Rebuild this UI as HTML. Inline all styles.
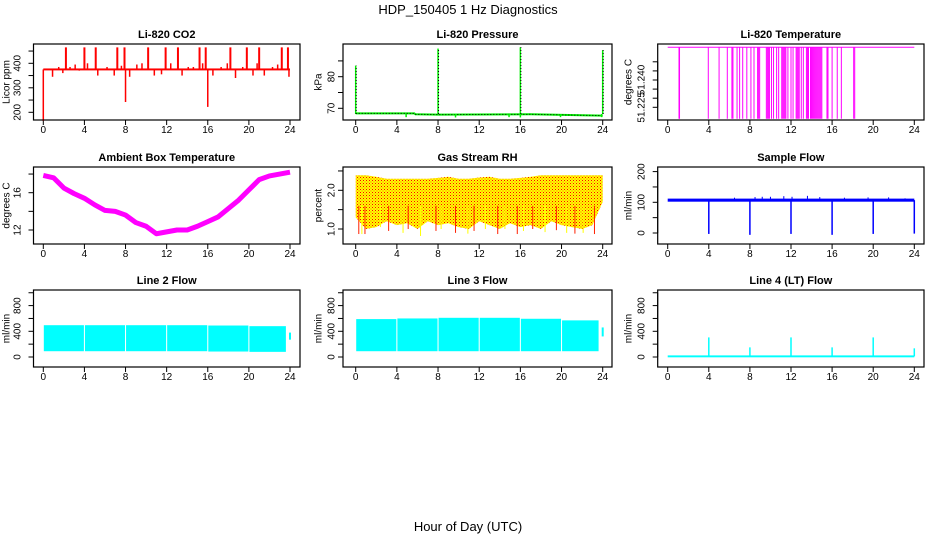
<!DOCTYPE html>
<html><head><meta charset="utf-8"><style>
html,body{margin:0;padding:0;background:#fff}
svg{display:block;font-family:"Liberation Sans",sans-serif}
</style></head><body>
<svg id="chart" width="936" height="540" viewBox="0 0 936 540">
<defs>
<pattern id="rhpat" width="3" height="3" patternUnits="userSpaceOnUse">
<rect width="3" height="3" fill="#ffff00"/><rect width="1" height="1" fill="#ff0000"/><rect x="1.5" y="1.5" width="1" height="1" fill="#ff6000"/>
</pattern>
</defs>
<text x="468" y="14" text-anchor="middle" font-size="13">HDP_150405  1 Hz Diagnostics</text>
<text x="468" y="531" text-anchor="middle" font-size="13">Hour of Day (UTC)</text>
</svg>
<script>
// ---- data ----
const xTicks = [0,4,8,12,16,20,24];
const co2Base = 375;
const co2SpikeHours = [2.2,4.0,5.1,7.2,7.9,10.2,11.9,13.1,15.2,15.8,18.2,19.8,21.0,23.2,23.8];
const co2SpikeValues = [465,465,465,465,465,465,465,465,465,465,465,465,465,465,465];
const co2SmallHours = [0.9,1.5,1.9,2.6,3.1,3.5,4.3,5.3,6.2,6.9,7.6,8.4,9.1,9.6,10.8,11.5,12.4,13.5,14.1,14.6,15.5,16.5,17.3,17.9,18.7,19.4,20.4,20.8,21.5,22.3,22.8,23.9];
const co2SmallValues = [345,385,360,385,395,370,400,350,385,350,390,345,395,400,350,355,400,350,385,385,400,350,385,400,340,385,350,400,350,385,395,345];
const co2DownHours = [0,8.0,16.0];
const co2DownValues = [165,242,222];

const presBase = [[0,68.4],[5.7,68.4],[5.8,68.1],[8,68.0],[17,68.1],[22,67.8],[24,67.7]];
const presSpikeHours = [0,8,16,24];
const presSpikeValues = [83.5,88.9,89.3,88.4];
const presDipHours = [4.9,9.7,14.9,16,19.9,23.9];
const presDipValues = [67.2,67.1,67.2,67.1,67.2,67.2];

const ltTop = 51.258, ltBottom = 51.2187;
const ltDropHours = [1.1,1.15,3.95,5.0,5.8,6.25,6.35,6.75,7.0,7.3,7.7,8.1,8.4,8.75,8.85,8.95,9.6,9.7,9.8,9.9,10.1,10.3,10.6,10.8,11.1,11.2,11.3,11.4,11.5,11.7,12.0,12.2,12.5,12.6,12.7,12.8,13.0,13.2,13.5,13.6,13.7,13.9,14.0,14.1,14.2,14.3,14.4,14.5,14.6,14.7,14.8,14.9,15.0,15.5,15.6,16.0,16.5,16.9,18.1,18.2];

const ambHours = [0,1,2,3,4,5,6,7,8,9,10,11,12,13,14,15,16,17,18,19,20,21,22,23,24];
const ambValues = [17.85,17.6,16.5,15.9,15.4,14.7,14.1,14.0,13.6,12.8,12.4,11.6,11.8,12.0,12.0,12.4,12.9,13.4,14.3,15.2,16.3,17.4,17.8,18.0,18.2];

const rhHours = [0,1,2,3,4,5,6,7,8,9,10,11,12,13,14,15,16,17,18,19,20,21,22,23,24];
const rhUpper = [2.39,2.39,2.35,2.30,2.30,2.30,2.30,2.30,2.32,2.35,2.30,2.30,2.33,2.35,2.30,2.30,2.32,2.35,2.39,2.39,2.39,2.39,2.39,2.39,2.39];
const rhLower = [1.30,1.00,1.05,1.20,1.10,1.15,1.00,1.20,1.10,1.15,1.05,1.00,1.20,1.10,1.00,1.15,1.05,1.10,1.00,1.20,1.10,1.05,1.00,1.10,1.70];
const rhSpikeHours = [0.3,0.6,0.9,2.4,3.2,4.6,5.1,6.3,7.8,8.3,9.7,10.9,11.5,12.6,13.8,14.5,15.7,16.3,17.2,18.4,19.5,20.5,21.3,22.1,23.2];
const rhSpikeValues = [0.87,0.87,0.87,1.05,0.95,0.9,1.0,0.82,0.95,1.0,0.9,0.88,0.95,1.0,0.87,1.0,0.87,0.95,1.0,0.92,0.97,0.9,0.88,0.9,0.87];

const sfBase = 107;
const sfDipHours = [4,8,12,16,20,24];
const sfDipValues = [-3,-6,-3,-6,-3,-2];
const sfNoiseHours = [6.5,8.5,9.2,10.0,11.3,12.1,13.6,14.8,17.2,19.5,21.5,23.1];
const sfNoiseValues = [115,117,118,118,120,118,121,117,115,116,116,113];

const l2SegStart = [0.05,4.05,8.05,12.05,16.05,20.05];
const l2SegEnd = [3.95,7.95,11.95,15.95,19.95,23.6];
const l2SegTop = [495,495,495,495,490,480];
const l2SegBottom = [90,90,90,90,85,80];
const l2Tail = [270,380];

const l3SegStart = [0.05,4.05,8.05,12.05,16.05,20.05];
const l3SegEnd = [3.95,7.95,11.95,15.95,19.95,23.6];
const l3SegTop = [590,600,610,610,595,570];
const l3SegBottom = [90,90,90,90,90,90];
const l3Tail = [320,460];

const l4Base = 10;
const l4SpikeHours = [4,8,12,16,20,24];
const l4SpikeValues = [305,150,305,150,305,135];

// ---- layout ----
const NS = "http://www.w3.org/2000/svg";
const svg = document.getElementById('chart');
const cols = [{l:33.5,r:300,x0:43.3,x24:290,lab:18,tit:7},{l:343,r:612,x0:355.7,x24:602.7,lab:332,tit:319},{l:657.7,r:924,x0:667.7,x24:914.3,lab:642,tit:629}];
const rows = [{t:44,b:120},{t:167,b:244},{t:290,b:367}];
function mk(tag, attrs, parent){const e=document.createElementNS(NS,tag);for(const k in attrs)e.setAttribute(k,attrs[k]);(parent||svg).appendChild(e);return e;}

function panel(ci,ri,name,title,ylab,v1,p1,v2,p2,yt,yl,ylText){
  const c=cols[ci],r=rows[ri];
  const g=mk('g',{});
  
  
  const xs=h=>c.x0+(c.x24-c.x0)*h/24;
  const ys=v=>p1+(v-v1)*(p2-p1)/(v2-v1);
  const t=mk('text',{x:(c.l+c.r)/2,y:r.t-6,'text-anchor':'middle','font-size':11,'font-weight':'bold'},g);
  t.textContent=title;
  
  
  const yt2=mk('text',{x:c.tit,y:(r.t+r.b)/2,'text-anchor':'middle','font-size':10,transform:`rotate(-90 ${c.tit} ${(r.t+r.b)/2})`,'dominant-baseline':'middle'},g);
  yt2.textContent=ylab;
  
  
  const ya=mk('g',{stroke:'#000','stroke-width':1},g);
  
  
  mk('line',{x1:c.l,x2:c.l,y1:ys(yt[0]),y2:ys(yt[yt.length-1])},ya);
  yt.forEach(v=>mk('line',{x1:c.l-5,x2:c.l,y1:ys(v),y2:ys(v)},ya));
  yl.forEach((v,i)=>{const y=ys(v);const tx=mk('text',{x:c.lab,y:y,'text-anchor':'middle','font-size':10,'dominant-baseline':'middle',transform:`rotate(-90 ${c.lab} ${y})`},g);tx.textContent=ylText[i];
    
    });
  const xa=mk('g',{stroke:'#000','stroke-width':1},g);
  
  
  mk('line',{x1:xs(0),x2:xs(24),y1:r.b,y2:r.b},xa);
  xTicks.forEach(h=>{mk('line',{x1:xs(h),x2:xs(h),y1:r.b,y2:r.b+5},xa);
    const tx=mk('text',{x:xs(h),y:r.b+13,'text-anchor':'middle','font-size':10,stroke:'none'},g);tx.textContent=h;
    
    });
  const plot=mk('g',{},g);
  
  
  const box=mk('rect',{x:c.l,y:r.t,width:c.r-c.l,height:r.b-r.t,fill:'none',stroke:'#000','stroke-width':1.2},g);
  
  
  return {xs,ys,plot};
}
function vline(p,x,y1,y2,col,w){mk('line',{x1:x,x2:x,y1:y1,y2:y2,stroke:col,'stroke-width':w||1},p);}

// CO2
(function(){
  const P=panel(0,0,'co2','Li-820 CO2','Licor ppm',200,112.3,400,63.3,[200,250,300,350,400,450],[200,300,400],['200','300','400']);
  mk('rect',{x:P.xs(0),y:P.ys(co2Base+4),width:P.xs(24)-P.xs(0),height:P.ys(co2Base-4)-P.ys(co2Base+4),fill:'#ff0000'},P.plot);
  co2SpikeHours.forEach((h,i)=>vline(P.plot,P.xs(h),P.ys(co2Base),P.ys(co2SpikeValues[i]),'#ff0000',2));
  co2SmallHours.forEach((h,i)=>vline(P.plot,P.xs(h),P.ys(co2Base),P.ys(co2SmallValues[i]),'#ff0000',1.5));
  co2DownHours.forEach((h,i)=>vline(P.plot,P.xs(h),P.ys(co2Base),P.ys(co2DownValues[i]),'#ff0000',1.5));
})();
// Pressure
(function(){
  const P=panel(1,0,'pressure','Li-820 Pressure','kPa',70,108.3,80,76.7,[70,75,80,85],[70,80],['70','80']);
  const pts=presBase.map(d=>P.xs(d[0])+','+P.ys(d[1])).join(' ');
  mk('polyline',{points:pts,fill:'none',stroke:'#00ee00','stroke-width':2},P.plot);
  mk('polyline',{points:pts,fill:'none',stroke:'#000','stroke-width':1,'stroke-dasharray':'1 2'},P.plot);
  presSpikeHours.forEach((h,i)=>{vline(P.plot,P.xs(h),P.ys(68.2),P.ys(presSpikeValues[i]),'#00ee00',1.5);
    mk('line',{x1:P.xs(h)+0.5,x2:P.xs(h)+0.5,y1:P.ys(68.2),y2:P.ys(presSpikeValues[i]),stroke:'#000','stroke-dasharray':'1 2'},P.plot);});
  presDipHours.forEach((h,i)=>vline(P.plot,P.xs(h),P.ys(68.2),P.ys(presDipValues[i]),'#00ee00',1.5));
})();
// Li-820 temperature
(function(){
  const P=panel(2,0,'li820-temp','Li-820 Temperature','degrees C',51.225,107.3,51.240,80,[51.225,51.230,51.235,51.240,51.245,51.250],[51.225,51.240],['51.225','51.240']);
  mk('line',{x1:P.xs(0),x2:P.xs(24),y1:P.ys(ltTop),y2:P.ys(ltTop),stroke:'#ff00ff','stroke-width':1},P.plot);
  ltDropHours.forEach(h=>vline(P.plot,P.xs(h),P.ys(ltTop),P.ys(ltBottom),'#ff00ff',1));
})();
// Ambient box temp
(function(){
  const P=panel(0,1,'ambient-temp','Ambient Box Temperature','degrees C',12,230,16,192.7,[12,14,16,18],[12,16],['12','16']);
  const pts=ambHours.map((h,i)=>P.xs(h)+','+P.ys(ambValues[i])).join(' ');
  mk('polyline',{points:pts,fill:'none',stroke:'#ff00ff','stroke-width':5,'stroke-linejoin':'round'},P.plot);
})();
// Gas stream RH
(function(){
  const P=panel(1,1,'gas-rh','Gas Stream RH','percent',1.0,229,2.0,190.3,[1.0,1.5,2.0,2.5],[1.0,2.0],['1.0','2.0']);
  let d='M'+rhHours.map((h,i)=>P.xs(h)+','+P.ys(rhUpper[i])).join(' L');
  for(let i=rhHours.length-1;i>=0;i--)d+=' L'+P.xs(rhHours[i])+','+P.ys(rhLower[i]);
  mk('path',{d:d+'Z',fill:'url(#rhpat)'},P.plot);
  rhSpikeHours.forEach((h,i)=>vline(P.plot,P.xs(h),P.ys(1.6),P.ys(rhSpikeValues[i]),i%2?'#ffff00':'#ff2000',1));
})();
// Sample flow
(function(){
  const P=panel(2,1,'sample-flow','Sample Flow','ml/min',0,233,100,202.3,[0,50,100,150,200],[0,100,200],['0','100','200']);
  mk('rect',{x:P.xs(0),y:P.ys(sfBase+5),width:P.xs(24)-P.xs(0),height:P.ys(sfBase-5)-P.ys(sfBase+5),fill:'#0000ff'},P.plot);
  sfNoiseHours.forEach((h,i)=>vline(P.plot,P.xs(h),P.ys(sfBase),P.ys(sfNoiseValues[i]),'#0000ff',1));
  sfDipHours.forEach((h,i)=>vline(P.plot,P.xs(h),P.ys(sfBase),P.ys(sfDipValues[i]),'#0000ff',1.5));
})();
// Line 2 / 3 flow
function bandPanel(ci,name,title,st,en,top,bot,tail){
  const P=panel(ci,2,name,title,'ml/min',0,357,400,331.3,[0,200,400,600,800,1000],[0,400,800],['0','400','800']);
  st.forEach((s,i)=>mk('rect',{x:P.xs(s),y:P.ys(top[i]),width:P.xs(en[i])-P.xs(s),height:P.ys(bot[i])-P.ys(top[i]),fill:'#00ffff'},P.plot));
  vline(P.plot,P.xs(24),P.ys(tail[0]),P.ys(tail[1]),'#00ffff',2);
}
bandPanel(0,'line2-flow','Line 2 Flow',l2SegStart,l2SegEnd,l2SegTop,l2SegBottom,l2Tail);
bandPanel(1,'line3-flow','Line 3 Flow',l3SegStart,l3SegEnd,l3SegTop,l3SegBottom,l3Tail);
// Line 4
(function(){
  const P=panel(2,2,'line4-flow','Line 4 (LT) Flow','ml/min',0,357,400,331.3,[0,200,400,600,800,1000],[0,400,800],['0','400','800']);
  mk('rect',{x:P.xs(0),y:P.ys(l4Base+15),width:P.xs(24)-P.xs(0),height:P.ys(l4Base-15)-P.ys(l4Base+15),fill:'#00ffff'},P.plot);
  l4SpikeHours.forEach((h,i)=>vline(P.plot,P.xs(h),P.ys(l4Base),P.ys(l4SpikeValues[i]),'#00ffff',1.5));
})();
</script>
</body></html>
